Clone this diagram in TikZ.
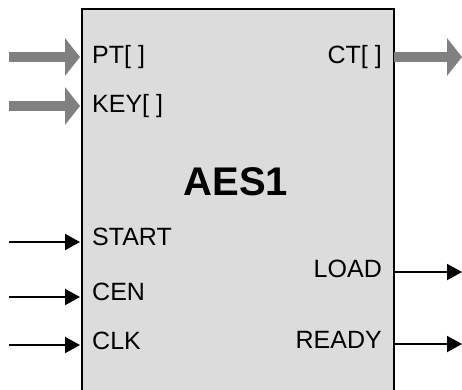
\documentclass[tikz,border=0pt]{standalone}
\usepackage{fontspec}
\setmainfont{Liberation Sans}
\usetikzlibrary{arrows.meta}
\definecolor{boxfill}{HTML}{DCDCDC}
\definecolor{busgray}{HTML}{808080}
\begin{document}
\begin{tikzpicture}[x=1pt,y=1pt,
  lbl/.style={inner sep=0pt,font=\fontsize{25}{30}\selectfont},
  busarrow/.style={draw=busgray,line width=10pt,-{Triangle[length=15pt,width=37pt]}},
  sigarrow/.style={draw=black,line width=2pt,-{Triangle[length=15pt,width=16pt]}}]
\useasboundingbox (0,0) rectangle (462,-389);
\clip (0,0) rectangle (462,-389);
\fill[white] (0,0) rectangle (462,-389);
% block
\node[draw=black,fill=boxfill,line width=2pt,rectangle,minimum width=312pt,minimum height=400pt,anchor=north west,inner sep=0pt] (box) at (81,-7.5) {};
\node[inner sep=0pt,anchor=base,font=\fontsize{40}{48}\selectfont\bfseries] (title) at (236,-195) {AES1};
% labels
\node[lbl,anchor=base west] (pt) at (92,-63) {PT[ ]};
\node[lbl,anchor=base west] (key) at (92,-112) {KEY[ ]};
\node[lbl,anchor=base west] (start) at (92,-245) {START};
\node[lbl,anchor=base west] (cen) at (92,-300.5) {CEN};
\node[lbl,anchor=base west] (clk) at (92,-349) {CLK};
\node[lbl,anchor=base east] (ct) at (382,-63) {CT[ ]};
\node[lbl,anchor=base east] (load) at (382,-277) {LOAD};
\node[lbl,anchor=base east] (ready) at (382,-348) {READY};
% connector ends
\coordinate (ptS) at (9,-57);   \coordinate (ptE) at (80,-57);
\coordinate (keyS) at (9,-106); \coordinate (keyE) at (80,-106);
\coordinate (ctS) at (394,-57); \coordinate (ctE) at (462,-57);
\coordinate (startS) at (9,-242); \coordinate (startE) at (80,-242);
\coordinate (cenS) at (9,-297);   \coordinate (cenE) at (80,-297);
\coordinate (clkS) at (9,-345);   \coordinate (clkE) at (80,-345);
\coordinate (loadS) at (394,-272);  \coordinate (loadE) at (462,-272);
\coordinate (readyS) at (394,-344); \coordinate (readyE) at (462,-344);
% arrows
\draw[busarrow] (ptS) -- (ptE);
\draw[busarrow] (keyS) -- (keyE);
\draw[busarrow] (ctS) -- (ctE);
\draw[sigarrow] (startS) -- (startE);
\draw[sigarrow] (cenS) -- (cenE);
\draw[sigarrow] (clkS) -- (clkE);
\draw[sigarrow] (loadS) -- (loadE);
\draw[sigarrow] (readyS) -- (readyE);
\end{tikzpicture}
\end{document}
